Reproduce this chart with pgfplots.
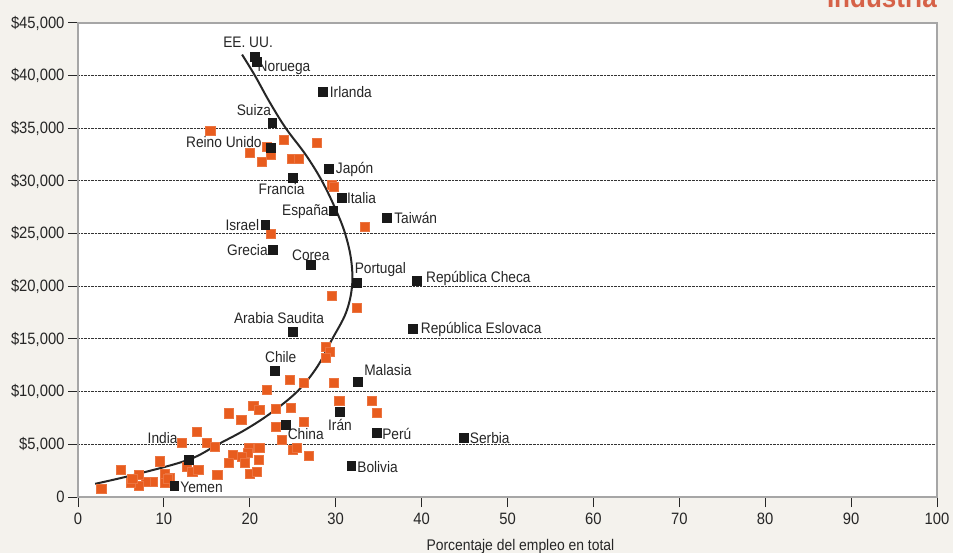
\documentclass[border=0pt]{standalone}
\usepackage{fontspec}
\setmainfont{Liberation Sans}[FakeStretch=0.9]
\usepackage{pgfplots}
\pgfplotsset{compat=1.18}
\definecolor{bgc}{RGB}{244,242,237}
\definecolor{orng}{RGB}{232,92,30}
\definecolor{ttl}{RGB}{214,98,72}
\begin{document}
\begin{tikzpicture}
\useasboundingbox (0,0) rectangle (953bp,553bp);
\fill[bgc] (0,0) rectangle (953bp,553bp);
\node[anchor=base east, font=\fontsize{29}{29}\selectfont\bfseries, text=ttl, inner sep=0pt] at (937bp,545bp) {Industria};
\begin{axis}[
at={(78bp,56bp)}, anchor=south west,
scale only axis, width=859bp, height=474bp,
xmin=0, xmax=100, ymin=0, ymax=45000,
xtick={0,10,...,100},
ytick={0,5000,...,45000},
scaled y ticks=false,
yticklabels={0,{\$5,000},{\$10,000},{\$15,000},{\$20,000},{\$25,000},{\$30,000},{\$35,000},{\$40,000},{\$45,000}},
/pgf/number format/assume math mode=true,
axis background/.style={fill=white},
axis line style={draw=black!35, line width=1.2bp},
tick style={black!85, line width=1bp},
major tick length=10bp,
tick align=outside,
xtick pos=bottom, ytick pos=left,
ymajorgrids,
grid style={black!80, densely dotted, line width=1bp},
tick label style={font=\fontsize{16.5}{16.5}\selectfont, text=black!85},
xticklabel style={yshift=-2bp},
xlabel={Porcentaje del empleo en total},
xlabel style={at={(axis description cs:0.515,0)}, anchor=base, yshift=-53bp, font=\fontsize{15.5}{15.5}\selectfont, text=black!85},
clip=false,
]
% orange squares: other countries
\addplot[only marks, mark=square*, mark size=4.6bp, mark options={fill=orng, draw=orng!85!white, line width=0.4bp}] coordinates {
(15.4,34750) (23.9,33900) (27.8,33600) (20.0,32650) (21.4,31800) (22.0,33230) (22.4,32470)
(24.9,32090) (25.7,32090) (29.5,29620) (29.8,29430) (22.4,24970) (33.4,25630)
(29.5,19080) (32.4,17940) (28.8,14240) (29.3,13770) (28.8,13200)
(24.6,11110) (26.3,10820) (29.8,10820) (22.0,10160) (30.4,9110) (34.2,9110) (34.8,7980)
(20.4,8700) (21.1,8300) (23.0,8350) (24.8,8450) (17.5,7950) (19.0,7310) (23.0,6650) (26.3,7120)
(23.7,5410) (25.0,4460) (25.5,4650) (26.9,3890)
(15.0,5130) (15.9,4750) (13.8,6200) (12.1,5130)
(18.0,3990) (19.9,4650) (21.1,4650) (19.8,4180) (19.1,3800) (19.4,3230) (21.0,3510) (17.5,3230)
(16.2,2150) (20.0,2180) (20.8,2370)
(12.7,2850) (13.3,2370) (14.0,2560)
(9.5,3400) (10.1,2180) (10.1,1330) (10.7,1800) (10.4,1710) (8.7,1420) (7.9,1420)
(7.1,2090) (7.1,1040) (6.1,1330) (6.3,1710) (5.0,2560) (2.7,760)
};
% trend curve
\addplot[smooth, tension=0.6, line width=2bp, black!85] coordinates {
(2.0,1250) (7,2200) (12.9,3550) (16.3,5000) (19.5,6400) (22.5,8000)
(25.5,10000) (27.8,12300) (29.6,15000) (31.2,17500) (31.9,20000) (31.8,22500)
(31.1,25000) (30,27300) (28.4,30000) (26.5,32500) (24.2,35000) (22.3,37500)
(20.6,40000) (19.1,42000)
};
% black squares: labelled countries
\addplot[only marks, mark=square*, mark size=4.4bp, mark options={fill=black!90, draw=black!90}] coordinates {
(20.6,41770) (20.8,41300) (28.5,38450) (22.6,35500) (22.4,33130) (25.0,30280)
(29.2,31140) (30.7,28390) (29.7,27150) (35.9,26490) (21.8,25820) (22.7,23450)
(27.1,22030) (32.4,20320) (39.4,20510) (25.0,15660) (39.0,15950) (22.9,11960)
(32.6,10920) (30.5,8070) (24.2,6840) (34.8,6080) (31.8,2940) (11.2,1040)
(12.9,3510) (44.9,5600)
};
\begin{scope}[every node/.style={font=\fontsize{15.3}{15.3}\selectfont, text=black!85, inner sep=0pt}]
\node[anchor=center] at (axis cs:19.8,43200) {EE. UU.};
\node[anchor=west] at (axis cs:20.9,40730) {Noruega};
\node[anchor=west] at (axis cs:29.3,38450) {Irlanda};
\node[anchor=east] at (axis cs:22.5,36740) {Suiza};
\node[anchor=east] at (axis cs:21.4,33700) {Reino Unido};
\node[anchor=center] at (axis cs:23.7,29240) {Francia};
\node[anchor=west] at (axis cs:30.0,31140) {Japón};
\node[anchor=west] at (axis cs:31.3,28390) {Italia};
\node[anchor=east] at (axis cs:29.2,27060) {España};
\node[anchor=west] at (axis cs:36.8,26490) {Taiwán};
\node[anchor=east] at (axis cs:21.1,25820) {Israel};
\node[anchor=east] at (axis cs:22.1,23450) {Grecia};
\node[anchor=center] at (axis cs:27.1,22980) {Corea};
\node[anchor=west] at (axis cs:32.2,21550) {Portugal};
\node[anchor=west] at (axis cs:40.5,20700) {República Checa};
\node[anchor=center] at (axis cs:23.4,16990) {Arabia Saudita};
\node[anchor=west] at (axis cs:39.9,15950) {República Eslovaca};
\node[anchor=center] at (axis cs:23.6,13290) {Chile};
\node[anchor=west] at (axis cs:33.3,12060) {Malasia};
\node[anchor=center] at (axis cs:30.5,6840) {Irán};
\node[anchor=west] at (axis cs:24.4,5980) {China};
\node[anchor=west] at (axis cs:35.4,5980) {Perú};
\node[anchor=west] at (axis cs:45.6,5600) {Serbia};
\node[anchor=west] at (axis cs:32.5,2850) {Bolivia};
\node[anchor=east] at (axis cs:11.6,5600) {India};
\node[anchor=west] at (axis cs:11.9,950) {Yemen};
\end{scope}
\end{axis}
\end{tikzpicture}
\end{document}
